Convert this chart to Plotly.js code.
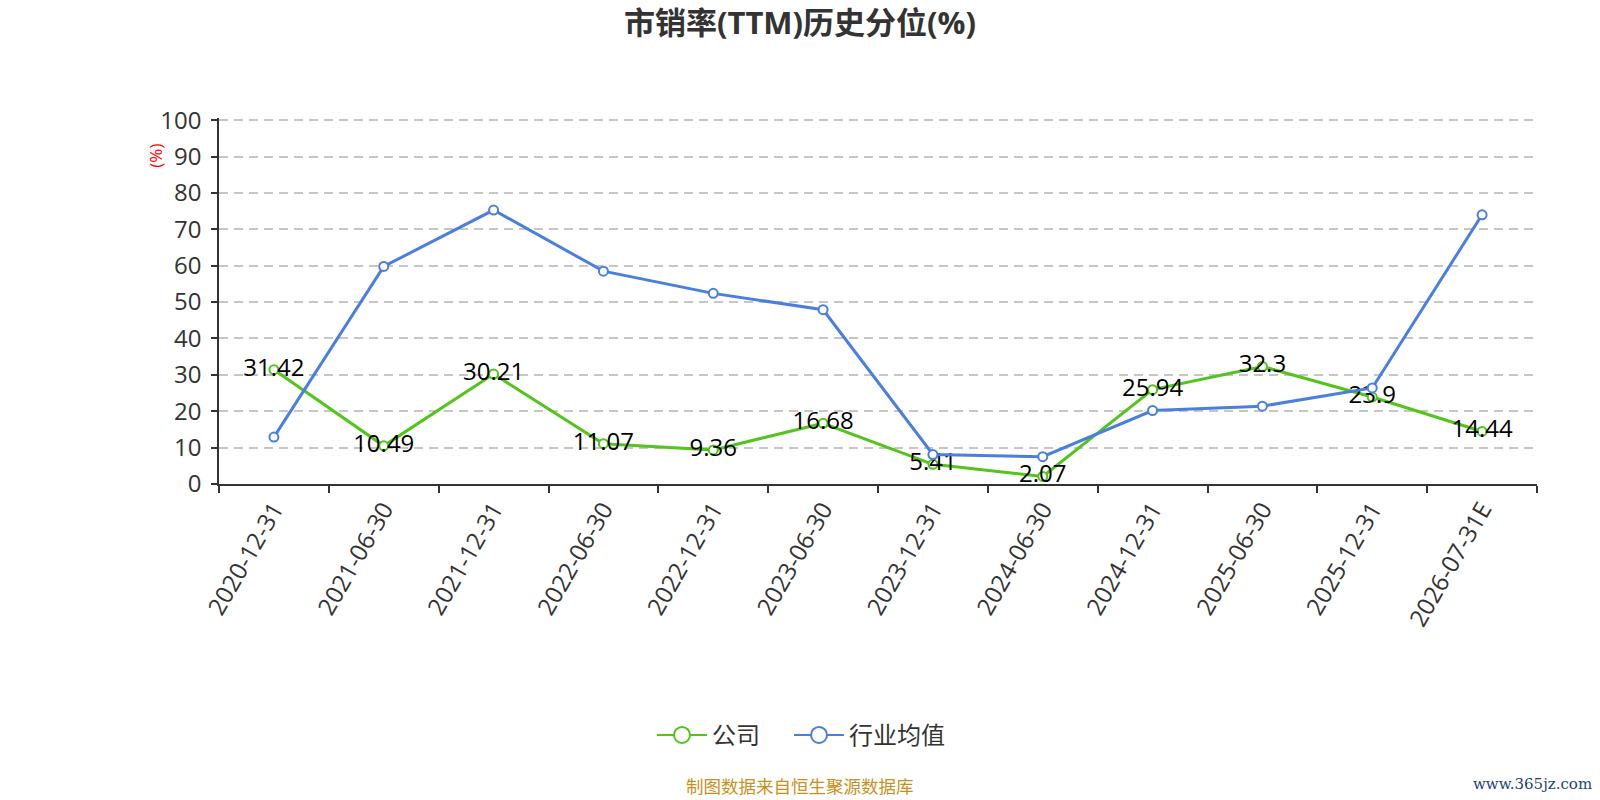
<!DOCTYPE html>
<html>
<head>
<meta charset="utf-8">
<script src="https://cdn.plot.ly/plotly-3.0.1.min.js"></script>
<style>
  html, body { margin: 0; padding: 0; background: #fff; }
  #chart { width: 1600px; height: 800px; }
</style>
</head>
<body>
<div id="chart"></div>
<script>
// 报告期
const dates = [
  "2020-12-31", "2021-06-30", "2021-12-31", "2022-06-30", "2022-12-31", "2023-06-30",
  "2023-12-31", "2024-06-30", "2024-12-31", "2025-06-30", "2025-12-31", "2026-07-31E"
];
// 公司 (标注的数值)
const companyPct = [31.42, 10.49, 30.21, 11.07, 9.36, 16.68, 5.41, 2.07, 25.94, 32.3, 23.9, 14.44];
// 行业均值
const industryPct = [12.9, 59.8, 75.3, 58.5, 52.4, 47.9, 8.1, 7.5, 20.2, 21.4, 26.4, 74.0];
const yTicks = [0, 10, 20, 30, 40, 50, 60, 70, 80, 90, 100];

const green = "#52c41a";
const blue = "#4a7fe0";
const fontFam = "'Open Sans', 'Noto Sans CJK SC', sans-serif";

const company = {
  x: dates,
  y: companyPct,
  type: "scatter",
  mode: "lines+markers+text",
  name: "公司",
  showlegend: false,
  line: { color: green, width: 3 },
  marker: { size: 9, color: "#fff", line: { color: green, width: 2 } },
  text: companyPct.map(v => String(v)),
  textposition: "middle center",
  textfont: { size: 24, color: "#000", family: fontFam },
  cliponaxis: false
};

const industry = {
  x: dates,
  y: industryPct,
  type: "scatter",
  mode: "lines+markers",
  name: "行业均值",
  showlegend: false,
  line: { color: blue, width: 3 },
  marker: { size: 9, color: "#fff", line: { color: blue, width: 2 } },
  cliponaxis: false
};

// 图例用 (大圆圈)
function legendItem(name, color) {
  return {
    x: [null], y: [null],
    type: "scatter",
    mode: "lines+markers",
    name: name,
    line: { color: color, width: 2 },
    marker: { size: 16, color: "#fff", line: { color: color, width: 2 } }
  };
}

// 像素 -> paper 坐标 (y 轴 0..100 落在 484.5..120.5)
const L = 219, R = 1537, B = 484.5, Y100 = 120.5;
const yTop = 100.6;   // 稍留一点, 让 100 的网格线画出来
const T = B - (B - Y100) * yTop / 100;
const px = x => (x - L) / (R - L);
const py = y => (B - y) / (B - T);

const layout = {
  width: 1600,
  height: 800,
  margin: { l: L, r: 1600 - R, t: T, b: 800 - B, pad: 0 },
  paper_bgcolor: "#fff",
  plot_bgcolor: "#fff",
  font: { family: fontFam, color: "#333" },
  title: {
    text: "<b>市销率(TTM)历史分位(%)</b>",
    x: 0.5, xanchor: "center",
    y: 1 - 23 / 800, yanchor: "middle",
    font: { size: 31, color: "#333", family: fontFam }
  },
  xaxis: {
    type: "category",
    tickson: "boundaries",
    ticks: "outside",
    ticklen: 7,
    tickwidth: 1.5,
    tickcolor: "#333",
    tickangle: -60,
    tickfont: { size: 24, color: "#333" },
    showline: true,
    linecolor: "#333",
    linewidth: 1.5,
    showgrid: false,
    zeroline: false,
    range: [-0.5, dates.length - 0.5]
  },
  yaxis: {
    range: [0, yTop],
    tickvals: yTicks,
    ticks: "outside",
    ticklen: 6,
    tickwidth: 1.5,
    tickcolor: "#333",
    ticklabelstandoff: 5,
    tickfont: { size: 24, color: "#333" },
    showline: true,
    linecolor: "#333",
    linewidth: 1.5,
    showgrid: true,
    gridcolor: "#c6c6c6",
    gridwidth: 1.5,
    griddash: "9px,6px",
    zeroline: false
  },
  showlegend: true,
  legend: {
    orientation: "h",
    x: px(652), xanchor: "left",
    y: py(736), yanchor: "middle",
    font: { size: 24, color: "#333" },
    itemwidth: 50
  },
  annotations: [
    {
      text: "(%)",
      xref: "paper", yref: "paper",
      x: px(156), y: py(156),
      xanchor: "center", yanchor: "middle",
      textangle: -90,
      showarrow: false,
      font: { size: 17, color: "#ff0000" }
    },
    {
      text: "制图数据来自恒生聚源数据库",
      xref: "paper", yref: "paper",
      x: px(800), y: py(787),
      xanchor: "center", yanchor: "middle",
      showarrow: false,
      font: { size: 17.5, color: "#c8901e" }
    },
    {
      text: "www.365jz.com",
      xref: "paper", yref: "paper",
      x: px(1594), y: py(785),
      xanchor: "right", yanchor: "middle",
      showarrow: false,
      font: { size: 15, color: "#1e3f7a", family: "'DejaVu Serif', serif" }
    }
  ]
};

// 第一个图例项后面多留一点空
Plotly.newPlot("chart",
  [company, industry, legendItem("公司\u2003", green), legendItem("行业均值", blue)], layout,
  { displayModeBar: false, responsive: false });
</script>
</body>
</html>
